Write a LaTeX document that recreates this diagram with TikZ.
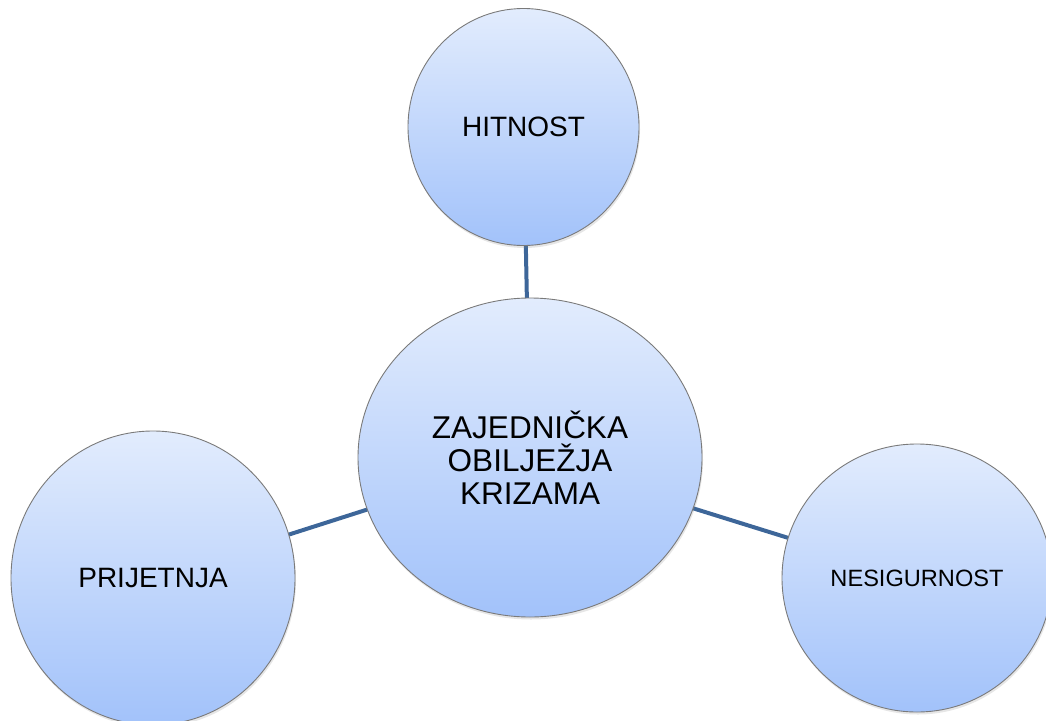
\documentclass[tikz,border=0pt]{standalone}
\usepackage{fontspec}
\setmainfont{Liberation Sans}
\usetikzlibrary{shapes.geometric,shadows}
\definecolor{filltop}{HTML}{E2ECFD}
\definecolor{fillbot}{HTML}{A2C2FA}
\definecolor{linkblue}{HTML}{3D6699}
\definecolor{rimgray}{HTML}{7A7A7A}
\tikzset{
  bubble/.style={ellipse, draw=rimgray, line width=0.9pt, top color=filltop, bottom color=fillbot,
    inner sep=0pt, align=center, text=black,
    drop shadow={opacity=0.2, shadow xshift=1pt, shadow yshift=-2.5pt}},
  link/.style={draw=linkblue, line width=4pt}
}
\begin{document}
\begin{tikzpicture}[x=1pt,y=-1pt]
\useasboundingbox (0,0) rectangle (1046,720);
\coordinate (ct) at (530,457.5);
\coordinate (tp) at (523.5,127);
\coordinate (lf) at (153,578);
\coordinate (rt) at (917,578);
\draw[link] (ct) -- (tp);
\draw[link] (ct) -- (lf);
\draw[link] (ct) -- (rt);
\node[bubble, minimum width=344pt, minimum height=319pt, font=\fontsize{31.5}{33}\selectfont] (center) at (ct) {ZAJEDNIČKA\\OBILJEŽJA\\KRIZAMA};
\node[bubble, minimum width=231pt, minimum height=237pt, font=\fontsize{28}{33}\selectfont] (top) at (tp) {HITNOST};
\node[bubble, minimum width=284pt, minimum height=294pt, font=\fontsize{28}{33}\selectfont] (left) at (lf) {PRIJETNJA};
\node[bubble, minimum width=270pt, minimum height=268pt, font=\fontsize{23.6}{28}\selectfont] (right) at (rt) {NESIGURNOST};
\end{tikzpicture}
\end{document}
